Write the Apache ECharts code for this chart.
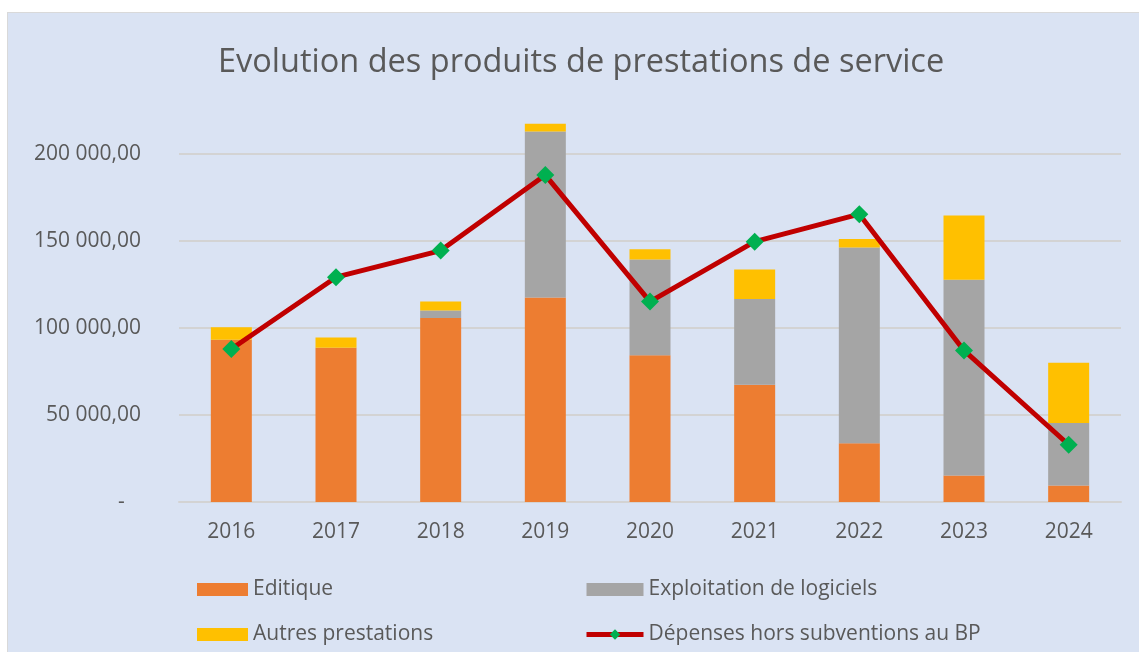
<!DOCTYPE html>
<html>
<head>
<meta charset="utf-8">
<script src="https://cdn.jsdelivr.net/npm/echarts@6/dist/echarts.min.js"></script>
<style>
  html, body { margin: 0; padding: 0; background: #fff; }
  .chart {
    position: absolute; left: 7px; top: 12px;
    width: 1131px; height: 639px;
    border-left: 1px solid #d9d9d9; border-top: 1px solid #d9d9d9;
    background: #dae3f3;
  }
</style>
</head>
<body>
<div class="chart"></div>
<script>
  const years = ['2016', '2017', '2018', '2019', '2020', '2021', '2022', '2023', '2024']
  const editique = [93200, 88600, 105700, 117500, 84400, 67400, 33700, 15300, 9500]
  const exploitation = [0, 0, 4300, 95500, 54900, 49300, 112500, 112500, 35900]
  const autres = [7300, 5900, 5200, 4400, 6000, 16900, 5000, 36800, 34600]
  const depenses = [87900, 129200, 144500, 187900, 115200, 149600, 165400, 87100, 32900]

  const font = "'Open Sans', 'Liberation Sans', sans-serif"
  const grey = '#595959'

  // 200 000,00 style, "-" for zero
  function fmt(v) {
    if (v === 0) return '-   '
    const s = String(Math.round(v)).replace(/\B(?=(\d{3})+(?!\d))/g, ' ')
    return s + ',00'
  }

  const chart = echarts.init(document.querySelector('.chart'))
  chart.setOption({
    textStyle: { fontFamily: font },
    title: {
      text: 'Evolution des produits de prestations de service',
      left: 205,
      top: 28,
      textStyle: { fontFamily: font, fontSize: 32.5, fontWeight: 'normal', color: grey }
    },
    grid: { left: 171, right: 18, top: 141, bottom: 150 },
    legend: [
      {
        orient: 'vertical',
        left: 184, top: 561,
        itemWidth: 51, itemHeight: 13, itemGap: 24,
        textStyle: { fontSize: 21, color: grey, lineHeight: 20 },
        data: [{ name: 'Editique', icon: 'rect' }, { name: 'Autres prestations', icon: 'rect' }]
      },
      {
        orient: 'vertical',
        left: 571, top: 561,
        itemWidth: 57, itemHeight: 13, itemGap: 24,
        textStyle: { fontSize: 21, color: grey, lineHeight: 20 },
        data: [
          { name: 'Exploitation de logiciels', icon: 'rect' },
          { name: 'Dépenses hors subventions au BP', lineStyle: { width: 5, color: '#c00000' } }
        ]
      }
    ],
    xAxis: {
      type: 'category',
      data: years,
      axisTick: { show: false },
      axisLine: { lineStyle: { color: '#d3d3d3', width: 2 } },
      axisLabel: { fontSize: 21, color: grey, margin: 20 }
    },
    yAxis: {
      type: 'value',
      min: 0, max: 200000, interval: 50000,
      axisLine: { show: false },
      axisTick: { show: false },
      splitLine: { lineStyle: { color: '#d3d3d3', width: 2 } },
      axisLabel: { fontSize: 21, color: grey, margin: 38, formatter: fmt }
    },
    series: [
      {
        name: 'Editique', type: 'bar', stack: 'p', barWidth: 41, clip: false,
        itemStyle: { color: '#ed7d31' }, data: editique
      },
      {
        name: 'Exploitation de logiciels', type: 'bar', stack: 'p', barWidth: 41, clip: false,
        itemStyle: { color: '#a5a5a5' }, data: exploitation
      },
      {
        name: 'Autres prestations', type: 'bar', stack: 'p', barWidth: 41, clip: false,
        itemStyle: { color: '#ffc000' }, data: autres
      },
      {
        name: 'Dépenses hors subventions au BP', type: 'line',
        symbol: 'diamond', symbolSize: 18,
        lineStyle: { color: '#c00000', width: 5 },
        itemStyle: { color: '#00b050' },
        data: depenses
      }
    ]
  })
</script>
</body>
</html>
